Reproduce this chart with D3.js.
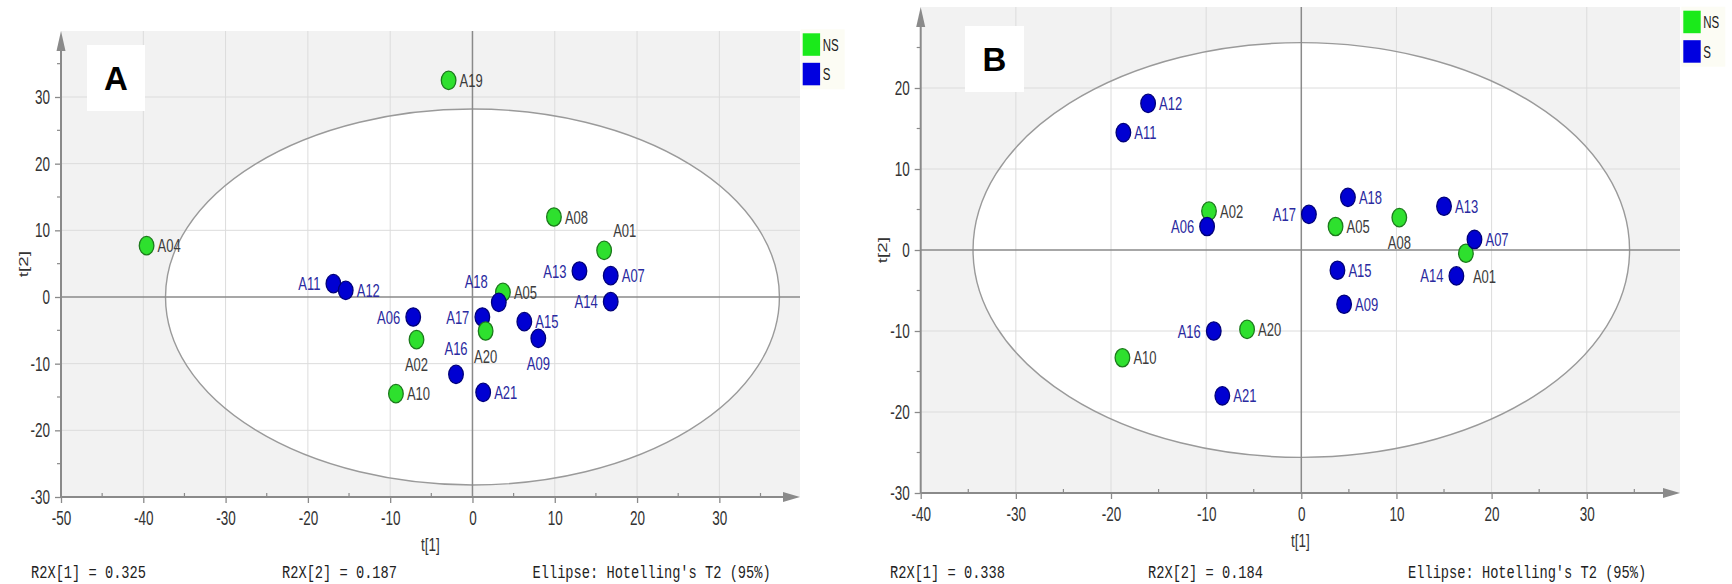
<!DOCTYPE html>
<html>
<head>
<meta charset="utf-8">
<script src="https://cdn.jsdelivr.net/npm/d3@7"></script>
<style>
  body { margin: 0; background: #fff; }
  svg { display: block; }
  text { font-family: 'Liberation Sans', Arial, sans-serif; }
  .mono { font-family: 'Liberation Mono', 'DejaVu Sans Mono', monospace; }
</style>
</head>
<body>
<script>
// Score plot A
let namesA = ['A01', 'A02', 'A04', 'A05', 'A06', 'A07', 'A08', 'A09', 'A10', 'A11',
  'A12', 'A13', 'A14', 'A15', 'A16', 'A17', 'A18', 'A19', 'A20', 'A21'];
let classA = ['NS', 'NS', 'NS', 'NS', 'S', 'S', 'NS', 'S', 'NS', 'S',
  'S', 'S', 'S', 'S', 'S', 'S', 'S', 'NS', 'NS', 'S'];
let t1A = [16.0, -6.8, -39.6, 3.7, -7.2, 16.8, 9.9, 8.0, -9.3, -16.9,
  -15.4, 13.0, 16.8, 6.3, -2.0, 1.2, 3.2, -2.9, 1.6, 1.3];
let t2A = [7.0, -6.4, 7.7, 0.7, -3.0, 3.2, 12.0, -6.2, -14.5, 2.0,
  1.0, 3.9, -0.7, -3.7, -11.6, -3.0, -0.8, 32.5, -5.1, -14.3];

// Score plot B
let namesB = ['A01', 'A02', 'A05', 'A06', 'A07', 'A08', 'A09', 'A10', 'A11', 'A12',
  'A13', 'A14', 'A15', 'A16', 'A17', 'A18', 'A20', 'A21'];
let classB = ['NS', 'NS', 'NS', 'S', 'S', 'NS', 'S', 'NS', 'S', 'S',
  'S', 'S', 'S', 'S', 'S', 'S', 'NS', 'S'];
let t1B = [17.3, -9.7, 3.6, -9.9, 18.2, 10.3, 4.5, -18.8, -18.7, -16.1,
  15.0, 16.3, 3.8, -9.2, 0.8, 4.9, -5.7, -8.3];
let t2B = [-0.4, 4.8, 2.9, 2.9, 1.3, 4.0, -6.7, -13.3, 14.5, 18.1,
  5.4, -3.2, -2.5, -10.0, 4.4, 6.5, -9.8, -18.0];

// Hotelling T2 ellipse semi-axes (t1, t2)
let ellipseA = [37.3, 28.2];
let ellipseB = [34.5, 25.6];

// R2X values
let r2xA = [0.325, 0.187];
let r2xB = [0.338, 0.184];

// Tick labels
let xTicksA = [-50, -40, -30, -20, -10, 0, 10, 20, 30];
let yTicksA = [-30, -20, -10, 0, 10, 20, 30];
let xTicksB = [-40, -30, -20, -10, 0, 10, 20, 30];
let yTicksB = [-30, -20, -10, 0, 10, 20];

let classes = ['NS', 'S'];

// Label placement (style only)
let labelPosA = { A01: 'tr', A02: 'b', A06: 'l', A09: 'b', A11: 'l', A13: 'l',
  A14: 'l', A16: 't', A17: 'l', A18: 'tl', A20: 'b' };
let labelPosB = { A01: 'br', A06: 'l', A08: 'b', A14: 'l', A16: 'l', A17: 'l' };

const W = 1732, H = 584;
const fill = { NS: '#2ee02e', S: '#0000d2' };
const stroke = { NS: '#1c7a1c', S: '#00007a' };
const legendFill = { NS: '#1aea1a', S: '#0000e0' };
const labelColor = { NS: '#3c3c3c', S: '#2a2aa0' };

let svg = d3.select('body').append('svg').attr('width', W).attr('height', H);

// stretched text helper: (x, baseline)
function stext(parent, x, y, str, size, sy, anchor, color, cls) {
  let g = parent.append('g').attr('transform', `translate(${x},${y})`);
  return g.append('text')
    .attr('class', cls || null)
    .attr('transform', `scale(1,${sy})`)
    .attr('text-anchor', anchor || 'start')
    .attr('font-size', size)
    .attr('fill', color || '#333')
    .text(str);
}

function drawPanel(cfg) {
  let g = svg.append('g');
  let x = d3.scaleLinear().domain(cfg.xDom).range([cfg.left, cfg.right]);
  let y = d3.scaleLinear().domain(cfg.yDom).range([cfg.bottom, cfg.top]);

  // background
  g.append('rect')
    .attr('x', cfg.left).attr('y', cfg.top)
    .attr('width', cfg.right - cfg.left).attr('height', cfg.bottom - cfg.top)
    .attr('fill', '#f2f2f2');

  // ellipse interior
  g.append('ellipse')
    .attr('cx', x(0)).attr('cy', y(0))
    .attr('rx', x(cfg.ell[0]) - x(0)).attr('ry', y(0) - y(cfg.ell[1]))
    .attr('fill', '#fff');

  // grid
  g.selectAll('.vgrid').data(cfg.xTicks.filter(d => d !== 0 && d !== cfg.xDom[0]))
    .enter().append('line')
    .attr('x1', d => x(d)).attr('x2', d => x(d))
    .attr('y1', cfg.top).attr('y2', cfg.bottom)
    .attr('stroke', '#dcdcdc').attr('stroke-width', 1);
  g.selectAll('.hgrid').data(cfg.yTicks.filter(d => d !== 0 && d !== cfg.yDom[0]))
    .enter().append('line')
    .attr('x1', cfg.left).attr('x2', cfg.right)
    .attr('y1', d => y(d)).attr('y2', d => y(d))
    .attr('stroke', '#dcdcdc').attr('stroke-width', 1);

  // ellipse outline
  g.append('ellipse')
    .attr('cx', x(0)).attr('cy', y(0))
    .attr('rx', x(cfg.ell[0]) - x(0)).attr('ry', y(0) - y(cfg.ell[1]))
    .attr('fill', 'none').attr('stroke', '#9a9a9a').attr('stroke-width', 1.4);

  // zero lines
  g.append('line')
    .attr('x1', x(0)).attr('x2', x(0)).attr('y1', cfg.top).attr('y2', cfg.bottom)
    .attr('stroke', '#8a8a8a').attr('stroke-width', 1.5);
  g.append('line')
    .attr('x1', cfg.left).attr('x2', cfg.right).attr('y1', y(0)).attr('y2', y(0))
    .attr('stroke', '#8a8a8a').attr('stroke-width', 1.5);

  // axes
  let xAxis = g.append('g').attr('transform', `translate(0,${cfg.bottom})`)
    .call(d3.axisBottom(x).tickValues(cfg.xTicks).tickSize(6).tickFormat(d => String(d)));
  let yAxis = g.append('g').attr('transform', `translate(${cfg.left},0)`)
    .call(d3.axisLeft(y).tickValues(cfg.yTicks).tickSize(6).tickFormat(d => String(d)));
  [xAxis, yAxis].forEach(a => {
    a.select('.domain').remove();
    a.selectAll('line').attr('stroke', '#8a8a8a').attr('stroke-width', 1.3);
    a.selectAll('text').attr('fill', '#333').attr('font-size', 13.5)
      .attr('font-family', "'Liberation Sans', Arial, sans-serif");
  });
  xAxis.selectAll('text').attr('y', 0).attr('dy', null)
    .attr('transform', 'translate(0,27.5) scale(1,1.45)');
  yAxis.selectAll('text').attr('x', 0).attr('dy', null)
    .attr('transform', 'translate(-11,6.5) scale(1,1.45)');

  // minor ticks
  let xMinor = cfg.xTicks.map(d => d + 5).filter(d => d < cfg.xDom[1]);
  let yMinor = cfg.yTicks.map(d => d + 5).filter(d => d < cfg.yDom[1]);
  g.selectAll('.xminor').data(xMinor).enter().append('line')
    .attr('x1', d => x(d)).attr('x2', d => x(d))
    .attr('y1', cfg.bottom - 4).attr('y2', cfg.bottom)
    .attr('stroke', '#8a8a8a').attr('stroke-width', 1.2);
  g.selectAll('.yminor').data(yMinor).enter().append('line')
    .attr('x1', cfg.left - 4).attr('x2', cfg.left)
    .attr('y1', d => y(d)).attr('y2', d => y(d))
    .attr('stroke', '#8a8a8a').attr('stroke-width', 1.2);

  // axis lines with arrows
  g.append('line')
    .attr('x1', cfg.left).attr('x2', cfg.right - 14).attr('y1', cfg.bottom).attr('y2', cfg.bottom)
    .attr('stroke', '#8a8a8a').attr('stroke-width', 2);
  g.append('path')
    .attr('d', `M${cfg.right},${cfg.bottom} L${cfg.right - 17},${cfg.bottom - 5} L${cfg.right - 17},${cfg.bottom + 5} Z`)
    .attr('fill', '#8a8a8a');
  g.append('line')
    .attr('x1', cfg.left).attr('x2', cfg.left).attr('y1', cfg.bottom).attr('y2', cfg.top + 14)
    .attr('stroke', '#8a8a8a').attr('stroke-width', 2);
  g.append('path')
    .attr('d', `M${cfg.left},${cfg.top} L${cfg.left - 4.5},${cfg.top + 20} L${cfg.left + 4.5},${cfg.top + 20} Z`)
    .attr('fill', '#8a8a8a');

  // axis titles
  stext(g, (cfg.left + cfg.right) / 2, cfg.bottom + 54, 't[1]', 13.5, 1.4, 'middle', '#333');
  let yt = g.append('g')
    .attr('transform', `translate(${cfg.left - 38},${(cfg.top + cfg.bottom) / 2}) rotate(-90)`);
  yt.append('text').attr('text-anchor', 'middle').attr('dy', '0.35em')
    .attr('font-size', 13.5).attr('fill', '#333')
    .attr('transform', 'scale(1.4,1)').text('t[2]');

  // points
  let data = cfg.names.map((n, i) => ({ name: n, cls: cfg.cls[i], t1: cfg.t1[i], t2: cfg.t2[i] }));
  g.selectAll('.point').data(data).enter().append('ellipse')
    .attr('class', 'point')
    .attr('cx', d => x(d.t1)).attr('cy', d => y(d.t2))
    .attr('rx', 7.3).attr('ry', 9.2)
    .attr('fill', d => fill[d.cls])
    .attr('stroke', d => stroke[d.cls]).attr('stroke-width', 1.3);

  // point labels
  data.forEach(d => {
    let px = x(d.t1), py = y(d.t2);
    let pos = cfg.labelPos[d.name] || 'r';
    let dx = 11, dy = 0, anchor = 'start';
    if (pos === 'l') { dx = -13; anchor = 'end'; }
    if (pos === 'b') { dx = 0; dy = 25; anchor = 'middle'; }
    if (pos === 't') { dx = 0; dy = -26; anchor = 'middle'; }
    if (pos === 'tl') { dx = -11; dy = -21; anchor = 'end'; }
    if (pos === 'tr') { dx = 9; dy = -20; }
    if (pos === 'br') { dx = 7; dy = 23; }
    stext(g, px + dx, py + dy + 6.5, d.name, 13, 1.4, anchor, labelColor[d.cls]);
  });

  // panel letter
  g.append('rect')
    .attr('x', cfg.box[0]).attr('y', cfg.box[1])
    .attr('width', cfg.box[2]).attr('height', cfg.box[3])
    .attr('fill', '#fff');
  g.append('text')
    .attr('x', cfg.box[0] + cfg.box[2] / 2).attr('y', cfg.box[1] + cfg.box[3] / 2 + 12)
    .attr('text-anchor', 'middle').attr('font-size', 33).attr('font-weight', 'bold')
    .attr('fill', '#000').text(cfg.letter);

  // legend
  let lg = g.append('g');
  lg.append('rect')
    .attr('x', cfg.legend[0] - 2).attr('y', cfg.legend[1] - 4)
    .attr('width', 44).attr('height', 60).attr('fill', '#fcfcf4');
  classes.forEach((c, i) => {
    lg.append('rect')
      .attr('x', cfg.legend[0]).attr('y', cfg.legend[1] + i * 29.5)
      .attr('width', 17.4).attr('height', 22.5).attr('fill', legendFill[c]);
    stext(lg, cfg.legend[0] + 20, cfg.legend[1] + i * 29.5 + 17.5, c, 11.5, 1.5, 'start', '#222');
  });

  // footer
  stext(g, cfg.foot[0], 578, 'R2X[1] = ' + cfg.r2x[0].toFixed(3), 13.7, 1.3, 'start', '#222', 'mono');
  stext(g, cfg.foot[1], 578, 'R2X[2] = ' + cfg.r2x[1].toFixed(3), 13.7, 1.3, 'start', '#222', 'mono');
  stext(g, cfg.foot[2], 578, "Ellipse: Hotelling's T2 (95%)", 13.7, 1.3, 'start', '#222', 'mono');
}

drawPanel({
  names: namesA, cls: classA, t1: t1A, t2: t2A, ell: ellipseA, r2x: r2xA,
  xTicks: xTicksA, yTicks: yTicksA, labelPos: labelPosA,
  xDom: [-50, 39.8], yDom: [-30, 39.9],
  left: 61, right: 800, top: 31, bottom: 497,
  box: [87, 45, 58, 66], letter: 'A',
  legend: [802.7, 33.3], foot: [31, 282, 532.5]
});

drawPanel({
  names: namesB, cls: classB, t1: t1B, t2: t2B, ell: ellipseB, r2x: r2xB,
  xTicks: xTicksB, yTicks: yTicksB, labelPos: labelPosB,
  xDom: [-40, 39.8], yDom: [-30, 30],
  left: 920.7, right: 1680, top: 7, bottom: 493,
  box: [965, 26, 59, 66], letter: 'B',
  legend: [1683.3, 10.7], foot: [890, 1148, 1408]
});
</script>
</body>
</html>
